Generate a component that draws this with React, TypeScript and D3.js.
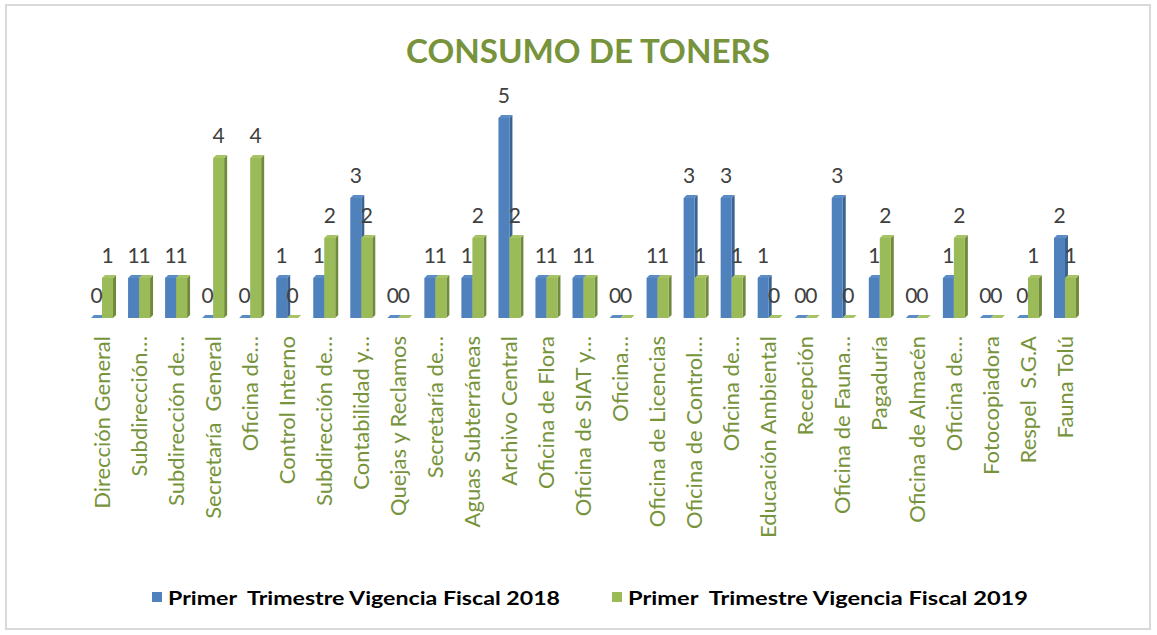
import { useEffect, useRef } from 'react';
import * as d3 from 'd3';

const categories = [
  'Dirección General',
  'Subdirección…',
  'Subdirección de…',
  'Secretaría  General',
  'Oficina de…',
  'Control Interno',
  'Subdirección de…',
  'Contabilidad y…',
  'Quejas y Reclamos',
  'Secretaría de…',
  'Aguas Subterráneas',
  'Archivo Central',
  'Oficina de Flora',
  'Oficina de SIAT y…',
  'Oficina…',
  'Oficina de Licencias',
  'Oficina de Control…',
  'Oficina de…',
  'Educación Ambiental',
  'Recepción',
  'Oficina de Fauna…',
  'Pagaduría',
  'Oficina de Almacén',
  'Oficina de…',
  'Fotocopiadora',
  'Respel  S.G.A',
  'Fauna Tolú',
];

const values2018 = [0, 1, 1, 0, 0, 1, 1, 3, 0, 1, 1, 5, 1, 1, 0, 1, 3, 3, 1, 0, 3, 1, 0, 1, 0, 0, 2];
const values2019 = [1, 1, 1, 4, 4, 0, 2, 2, 0, 1, 2, 2, 1, 1, 0, 1, 1, 1, 0, 0, 0, 2, 0, 2, 0, 1, 1];

const seriesNames = [
  'Primer  Trimestre Vigencia Fiscal 2018',
  'Primer  Trimestre Vigencia Fiscal 2019',
];

const W = 1157;
const H = 635;

const App = () => {
  const svgRef = useRef<SVGSVGElement | null>(null);

  useEffect(() => {
    const svg = d3.select(svgRef.current);
    svg.selectAll('*').remove();

    const font = 'Lato, "Open Sans", sans-serif';
    const green = '#77933C';
    const colors = [
      { front: '#4F81BD', side: '#3A6393', top: '#5B8CC6' },
      { front: '#9BBB59', side: '#6F8A3C', top: '#A6C466' },
    ];

    // outer frame
    svg
      .append('rect')
      .attr('x', 6)
      .attr('y', 5)
      .attr('width', 1144)
      .attr('height', 624)
      .attr('fill', 'white')
      .attr('stroke', '#D9D9D9')
      .attr('stroke-width', 2);

    svg
      .append('text')
      .attr('x', 588)
      .attr('y', 63)
      .attr('text-anchor', 'middle')
      .attr('font-family', font)
      .attr('font-weight', 'bold')
      .attr('font-size', 33)
      .attr('fill', green)
      .attr('textLength', 364)
      .attr('lengthAdjust', 'spacingAndGlyphs')
      .text('CONSUMO DE TONERS');

    const x = d3
      .scaleBand<number>()
      .domain(d3.range(categories.length))
      .range([83.5, 1083.5]);

    const y = d3.scaleLinear().domain([0, 5]).range([318, 118]);

    const barW = 11;
    const depth = 3;
    const base = y(0);

    const series = [values2018, values2019];
    const g = svg.append('g');

    series.forEach((vals, si) => {
      const c = colors[si];
      vals.forEach((v, i) => {
        const cx = x(i)! + x.bandwidth() / 2;
        const bx = si === 0 ? cx - barW : cx;
        const top = y(v);
        // side face
        g.append('polygon')
          .attr(
            'points',
            [
              [bx + barW, top],
              [bx + barW + depth, top - depth],
              [bx + barW + depth, base - depth],
              [bx + barW, base],
            ].join(' ')
          )
          .attr('fill', c.side);
        // top face
        g.append('polygon')
          .attr(
            'points',
            [
              [bx, top],
              [bx + depth, top - depth],
              [bx + barW + depth, top - depth],
              [bx + barW, top],
            ].join(' ')
          )
          .attr('fill', c.top);
        // front face
        g.append('rect')
          .attr('x', bx)
          .attr('y', top)
          .attr('width', barW)
          .attr('height', Math.max(0, base - top))
          .attr('fill', c.front);
      });
    });

    // data labels
    series.forEach((vals, si) => {
      vals.forEach((v, i) => {
        const cx = x(i)! + x.bandwidth() / 2;
        const lx = si === 0 ? cx - barW / 2 : cx + barW / 2;
        g.append('text')
          .attr('x', lx)
          .attr('y', y(v) - 15)
          .attr('text-anchor', 'middle')
          .attr('font-family', font)
          .attr('font-size', 21)
          .attr('fill', '#404040')
          .text(v);
      });
    });

    // category labels
    categories.forEach((cat, i) => {
      const cx = x(i)! + x.bandwidth() / 2;
      svg
        .append('text')
        .attr('transform', `translate(${cx},336) rotate(-90)`)
        .attr('text-anchor', 'end')
        .attr('dy', '0.35em')
        .attr('font-family', font)
        .attr('font-size', 22)
        .attr('fill', green)
        .style('white-space', 'pre')
        .text(cat);
    });

    // legend
    const legendX = [152, 612];
    const legendLen = [392, 400];
    seriesNames.forEach((name, si) => {
      svg
        .append('rect')
        .attr('x', legendX[si])
        .attr('y', 592)
        .attr('width', 10)
        .attr('height', 10)
        .attr('fill', colors[si].front);
      svg
        .append('text')
        .attr('x', legendX[si] + 16)
        .attr('y', 605)
        .attr('font-family', font)
        .attr('font-weight', 'bold')
        .attr('font-size', 19)
        .attr('fill', '#000')
        .attr('textLength', legendLen[si])
        .attr('lengthAdjust', 'spacingAndGlyphs')
        .style('white-space', 'pre')
        .text(name);
    });
  }, []);

  return (
    <div style={{ position: 'absolute', left: 0, top: 0 }}>
      <svg ref={svgRef} width={W} height={H} style={{ display: 'block' }}></svg>
    </div>
  );
};

export default App;
